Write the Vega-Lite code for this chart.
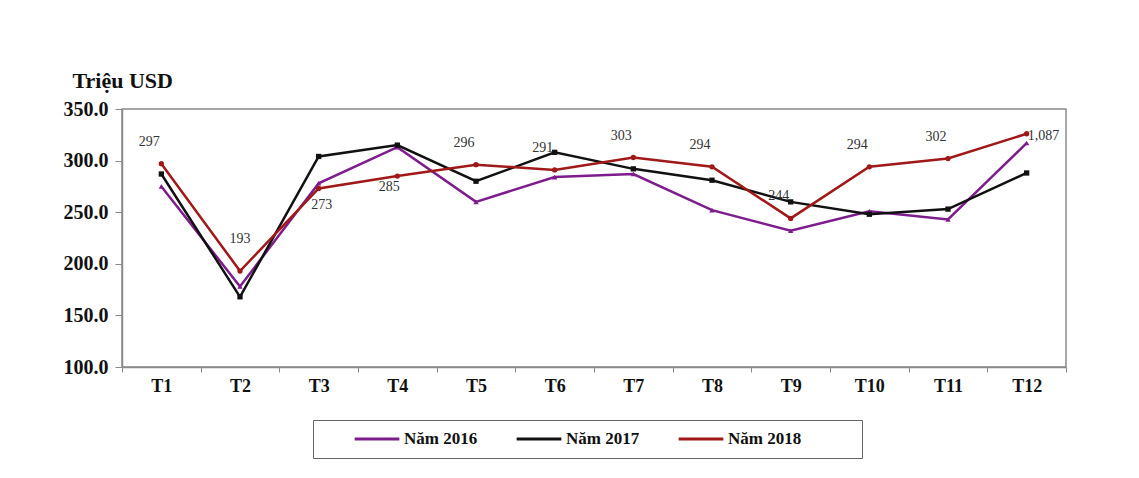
{
  "$schema": "https://vega.github.io/schema/vega-lite/v6.json",
  "width": 944,
  "height": 258,
  "autosize": "none",
  "padding": {"left": 122, "top": 109, "right": 73, "bottom": 111},
  "background": "white",
  "config": {
    "view": {"stroke": "#8a8a8a", "strokeWidth": 1.5},
    "font": "Liberation Serif"
  },
  "resolve": {"legend": {"color": "independent", "shape": "independent"}},
  "datasets": {
    "series": [
      {"month": "T1", "year": "Năm 2016", "value": 275},
      {"month": "T2", "year": "Năm 2016", "value": 178},
      {"month": "T3", "year": "Năm 2016", "value": 278},
      {"month": "T4", "year": "Năm 2016", "value": 313},
      {"month": "T5", "year": "Năm 2016", "value": 260},
      {"month": "T6", "year": "Năm 2016", "value": 284},
      {"month": "T7", "year": "Năm 2016", "value": 287},
      {"month": "T8", "year": "Năm 2016", "value": 252},
      {"month": "T9", "year": "Năm 2016", "value": 232},
      {"month": "T10", "year": "Năm 2016", "value": 251},
      {"month": "T11", "year": "Năm 2016", "value": 243},
      {"month": "T12", "year": "Năm 2016", "value": 317},
      {"month": "T1", "year": "Năm 2017", "value": 287},
      {"month": "T2", "year": "Năm 2017", "value": 168},
      {"month": "T3", "year": "Năm 2017", "value": 304},
      {"month": "T4", "year": "Năm 2017", "value": 315},
      {"month": "T5", "year": "Năm 2017", "value": 280},
      {"month": "T6", "year": "Năm 2017", "value": 308},
      {"month": "T7", "year": "Năm 2017", "value": 292},
      {"month": "T8", "year": "Năm 2017", "value": 281},
      {"month": "T9", "year": "Năm 2017", "value": 260},
      {"month": "T10", "year": "Năm 2017", "value": 248},
      {"month": "T11", "year": "Năm 2017", "value": 253},
      {"month": "T12", "year": "Năm 2017", "value": 288},
      {"month": "T1", "year": "Năm 2018", "value": 297},
      {"month": "T2", "year": "Năm 2018", "value": 193},
      {"month": "T3", "year": "Năm 2018", "value": 273},
      {"month": "T4", "year": "Năm 2018", "value": 285},
      {"month": "T5", "year": "Năm 2018", "value": 296},
      {"month": "T6", "year": "Năm 2018", "value": 291},
      {"month": "T7", "year": "Năm 2018", "value": 303},
      {"month": "T8", "year": "Năm 2018", "value": 294},
      {"month": "T9", "year": "Năm 2018", "value": 244},
      {"month": "T10", "year": "Năm 2018", "value": 294},
      {"month": "T11", "year": "Năm 2018", "value": 302},
      {"month": "T12", "year": "Năm 2018", "value": 326}
    ],
    "labels": [
      {"month": "T1", "value": 297, "label": "297"},
      {"month": "T2", "value": 193, "label": "193"},
      {"month": "T3", "value": 273, "label": "273"},
      {"month": "T4", "value": 285, "label": "285"},
      {"month": "T5", "value": 296, "label": "296"},
      {"month": "T6", "value": 291, "label": "291"},
      {"month": "T7", "value": 303, "label": "303"},
      {"month": "T8", "value": 294, "label": "294"},
      {"month": "T9", "value": 244, "label": "244"},
      {"month": "T10", "value": 294, "label": "294"},
      {"month": "T11", "value": 302, "label": "302"},
      {"month": "T12", "value": 326, "label": "1,087"}
    ]
  },
  "encoding": {
    "x": {
      "field": "month",
      "type": "ordinal",
      "sort": ["T1","T2","T3","T4","T5","T6","T7","T8","T9","T10","T11","T12"],
      "bandPosition": 0.5,
      "scale": {"type": "band", "paddingInner": 0, "paddingOuter": 0},
      "axis": {
        "title": null,
        "labelAngle": 0,
        "tickBand": "extent",
        "labelFont": "Liberation Serif",
        "labelFontWeight": "bold",
        "labelFontSize": 18,
        "labelColor": "#111",
        "labelPadding": 5,
        "tickColor": "#8a8a8a",
        "tickSize": 5,
        "domainColor": "#8a8a8a",
        "domainWidth": 1.5
      }
    },
    "y": {
      "field": "value",
      "type": "quantitative",
      "scale": {"domain": [100, 350], "nice": false, "zero": false},
      "axis": {
        "title": "Triệu USD",
        "titleAngle": 0,
        "titleAlign": "left",
        "titleBaseline": "alphabetic",
        "titleX": -50,
        "titleY": -22,
        "titleFont": "Liberation Serif",
        "titleFontSize": 22,
        "titleFontWeight": "bold",
        "titleColor": "#111",
        "values": [100, 150, 200, 250, 300, 350],
        "format": ".1f",
        "grid": false,
        "labelFont": "Liberation Serif",
        "labelFontWeight": "bold",
        "labelFontSize": 20,
        "labelColor": "#111",
        "labelPadding": 7,
        "tickColor": "#8a8a8a",
        "tickSize": 7,
        "domainColor": "#8a8a8a",
        "domainWidth": 1.5
      }
    }
  },
  "layer": [
    {
      "data": {"name": "series"},
      "mark": {"type": "line", "strokeWidth": 2.5},
      "encoding": {
        "color": {
          "field": "year",
          "type": "nominal",
          "scale": {"domain": ["Năm 2016", "Năm 2017", "Năm 2018"], "range": ["#7d1d8c", "#111111", "#a01818"]},
          "legend": {
            "title": " ",
            "titleOrient": "right",
            "titlePadding": 51,
            "orient": "none",
            "direction": "horizontal",
            "legendX": 191,
            "legendY": 311,
            "symbolType": "stroke",
            "symbolSize": 2000,
            "symbolStrokeWidth": 3,
            "symbolOffset": 30,
            "clipHeight": 18,
            "labelFont": "Liberation Serif",
            "labelFontWeight": "bold",
            "labelFontSize": 17,
            "labelColor": "#111",
            "labelOffset": 3,
            "columnPadding": 7,
            "strokeColor": "#666",
            "padding": 10
          }
        }
      }
    },
    {
      "data": {"name": "series"},
      "mark": {"type": "point", "filled": true, "size": 28, "opacity": 1},
      "encoding": {
        "color": {"field": "year", "type": "nominal", "legend": null},
        "shape": {
          "field": "year",
          "type": "nominal",
          "scale": {"domain": ["Năm 2016", "Năm 2017", "Năm 2018"], "range": ["triangle-up", "square", "circle"]},
          "legend": null
        }
      }
    },
    {
      "data": {"name": "labels"},
      "transform": [{"filter": {"field": "month", "oneOf": ["T1","T5","T6","T7","T8","T9","T10","T11"]}}],
      "mark": {"type": "text", "font": "Liberation Serif", "fontSize": 14, "fill": "#333333", "dx": -12, "dy": -22},
      "encoding": {"text": {"field": "label"}}
    },
    {
      "data": {"name": "labels"},
      "transform": [{"filter": {"field": "month", "oneOf": ["T2"]}}],
      "mark": {"type": "text", "font": "Liberation Serif", "fontSize": 14, "fill": "#333333", "dy": -32},
      "encoding": {"text": {"field": "label"}}
    },
    {
      "data": {"name": "labels"},
      "transform": [{"filter": {"field": "month", "oneOf": ["T3"]}}],
      "mark": {"type": "text", "font": "Liberation Serif", "fontSize": 14, "fill": "#333333", "dx": 3, "dy": 17},
      "encoding": {"text": {"field": "label"}}
    },
    {
      "data": {"name": "labels"},
      "transform": [{"filter": {"field": "month", "oneOf": ["T4"]}}],
      "mark": {"type": "text", "font": "Liberation Serif", "fontSize": 14, "fill": "#333333", "dx": -8, "dy": 11},
      "encoding": {"text": {"field": "label"}}
    },
    {
      "data": {"name": "labels"},
      "transform": [{"filter": {"field": "month", "oneOf": ["T12"]}}],
      "mark": {"type": "text", "font": "Liberation Serif", "fontSize": 14, "fill": "#333333", "align": "left", "dx": 1, "dy": 2},
      "encoding": {"text": {"field": "label"}}
    }
  ]
}
